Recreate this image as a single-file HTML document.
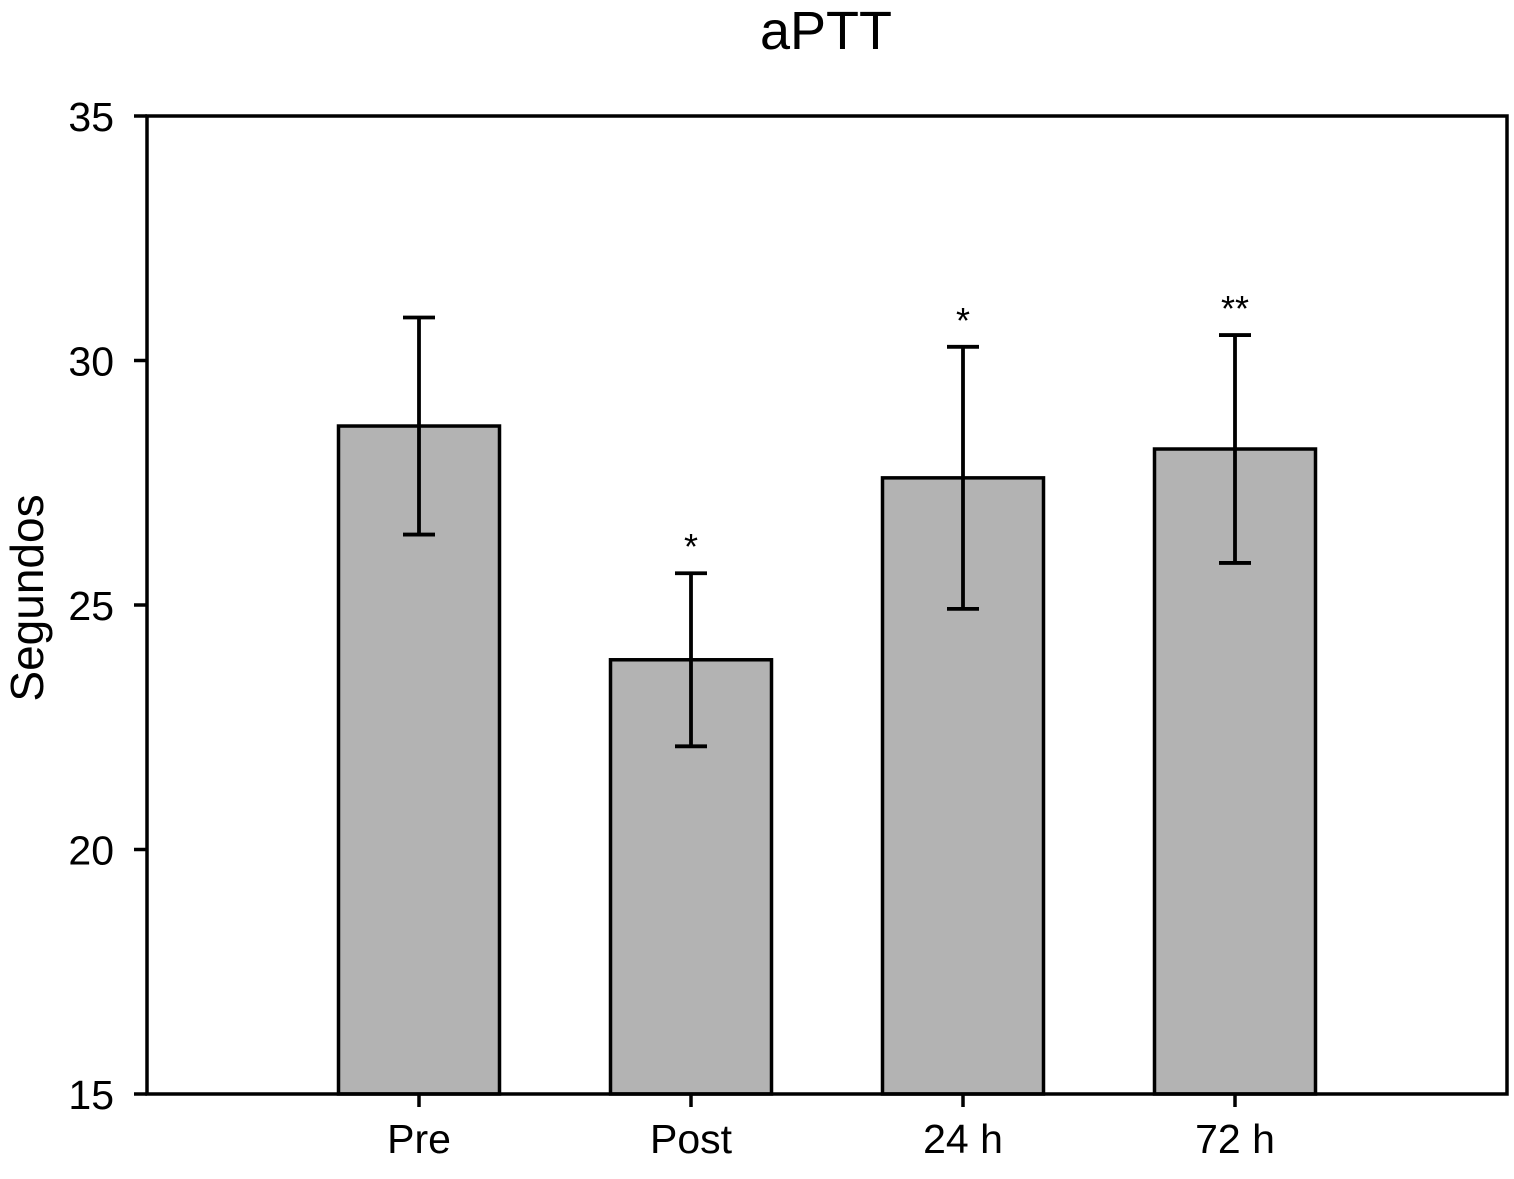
<!DOCTYPE html>
<html><head><meta charset="utf-8"><style>
html,body{margin:0;padding:0;background:#fff;}
svg text{font-family:"Liberation Sans",Arial,sans-serif;fill:#000;}
</style></head><body>
<svg id="chart" width="1514" height="1174" xmlns="http://www.w3.org/2000/svg">
<text x="826" y="49" font-size="54" text-anchor="middle">aPTT</text>
<text transform="translate(43,598) rotate(-90)" font-size="46" text-anchor="middle">Segundos</text>
<g id="marks"></g>
<rect x="147" y="116" width="1360" height="978" fill="none" stroke="#000" stroke-width="3.5"/>
<g id="axes"></g>
</svg>
<script>
const categories = ["Pre", "Post", "24 h", "72 h"];
const means = [28.66, 23.88, 27.6, 28.19];
const errors = [2.22, 1.77, 2.68, 2.33];
const stars = ["", "*", "*", "**"];
const yTicks = [15, 20, 25, 30, 35];

const NS = "http://www.w3.org/2000/svg";
const L = 147, R = 1507, T = 116, B = 1094, yMin = 15, yMax = 35;
const y = v => B - (v - yMin) / (yMax - yMin) * (B - T);
const slot = (R - L) / (categories.length + 1);
const x = i => L + slot * (i + 1);
const barW = 161;
function mk(tag, attrs, parent) {
  const e = document.createElementNS(NS, tag);
  for (const k in attrs) e.setAttribute(k, attrs[k]);
  parent.appendChild(e);
  return e;
}
const marks = document.getElementById("marks");
const axes = document.getElementById("axes");
categories.forEach((c, i) => {
  const cx = x(i);
  const bar = mk("rect", {x: cx - barW / 2, y: y(means[i]), width: barW, height: B - y(means[i]), fill: "#b3b3b3", stroke: "#000", "stroke-width": 3.5}, marks);
  
  
  const g = mk("g", {stroke: "#000", "stroke-width": 3.8}, marks);
  
  
  const hi = y(means[i] + errors[i]), lo = y(means[i] - errors[i]);
  mk("line", {x1: cx, x2: cx, y1: hi, y2: lo}, g);
  mk("line", {x1: cx - 16, x2: cx + 16, y1: hi, y2: hi}, g);
  mk("line", {x1: cx - 16, x2: cx + 16, y1: lo, y2: lo}, g);
  if (stars[i]) {
    const s = mk("text", {x: cx, y: hi - 14, "font-size": 36, "text-anchor": "middle"}, marks);
    s.textContent = stars[i];
    
    
  }
  const t = mk("line", {x1: cx, x2: cx, y1: B, y2: B + 13, stroke: "#000", "stroke-width": 3.5}, axes);
  
  
  const lb = mk("text", {x: cx, y: 1153, "font-size": 41, "text-anchor": "middle"}, axes);
  lb.textContent = c;
  
  
});
yTicks.forEach(v => {
  const t = mk("line", {x1: L - 13, x2: L, y1: y(v), y2: y(v), stroke: "#000", "stroke-width": 3.5}, axes);
  
  
  const lb = mk("text", {x: 114, y: y(v) + 15, "font-size": 41, "text-anchor": "end"}, axes);
  lb.textContent = v;
  
  
});
</script>
</body></html>
